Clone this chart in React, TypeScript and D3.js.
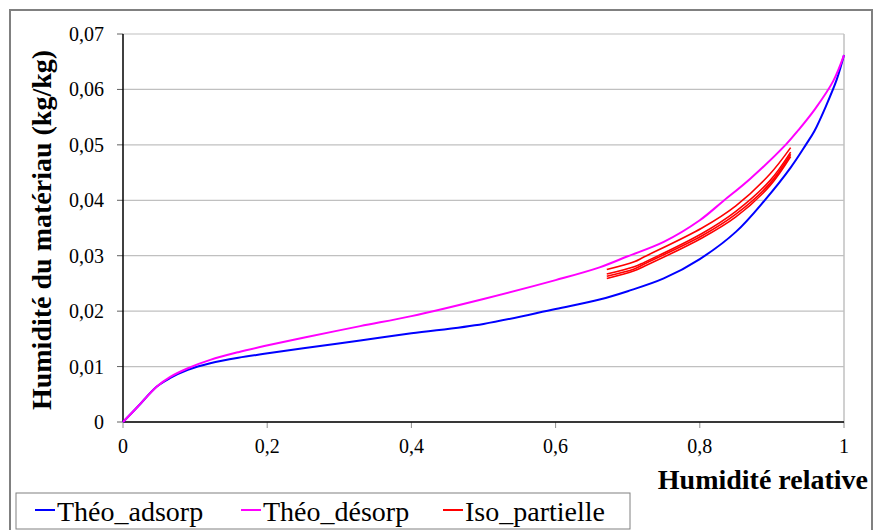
import React from "react";
import * as d3 from "d3";

const xTicks = [0, 0.2, 0.4, 0.6, 0.8, 1];
const yTicks = [0, 0.01, 0.02, 0.03, 0.04, 0.05, 0.06, 0.07];

const adsX = [0, 0.02, 0.047, 0.065, 0.09, 0.121, 0.16, 0.196, 0.25, 0.329, 0.4, 0.5, 0.6, 0.661, 0.7, 0.75, 0.8, 0.85, 0.89, 0.926, 0.947, 0.959, 0.975, 0.99, 1];
const adsY = [0, 0.0027, 0.0064, 0.0079, 0.0094, 0.0106, 0.0116, 0.0123, 0.0133, 0.0147, 0.016, 0.0177, 0.0204, 0.0221, 0.0236, 0.0259, 0.0294, 0.0343, 0.04, 0.0459, 0.05, 0.0525, 0.057, 0.0618, 0.0662];

const desX = [0, 0.02, 0.047, 0.065, 0.09, 0.121, 0.16, 0.196, 0.25, 0.329, 0.4, 0.5, 0.6, 0.661, 0.7, 0.75, 0.8, 0.831, 0.87, 0.919, 0.937, 0.96, 0.985, 1];
const desY = [0, 0.0027, 0.0064, 0.0081, 0.0097, 0.0112, 0.0126, 0.0137, 0.0152, 0.0173, 0.0191, 0.0222, 0.0256, 0.0279, 0.0299, 0.0325, 0.0364, 0.0397, 0.0439, 0.05, 0.0527, 0.0565, 0.0615, 0.0662];

const isoX = [0.671, 0.709, 0.723, 0.803, 0.85, 0.897, 0.926];
const isoA = [0.0275, 0.0289, 0.0298, 0.035, 0.039, 0.0447, 0.0495];
const isoB = [0.0267, 0.028, 0.0288, 0.034, 0.038, 0.0435, 0.0487];
const isoC = [0.0259, 0.0273, 0.0281, 0.0332, 0.037, 0.0426, 0.0479];
const isoD = [0.0263, 0.0276, 0.0285, 0.0336, 0.0375, 0.043, 0.0483];

const legendItems = [
  { label: "Théo_adsorp", color: "#0000ff" },
  { label: "Théo_désorp", color: "#ff00ff" },
  { label: "Iso_partielle", color: "#ff0000" },
];

const fmt = (v: number) => String(+v.toFixed(2)).replace(".", ",");
const SERIF = '"Liberation Serif"';

function T(props: any) {
  const { children, ...rest } = props;
  return (
    <text {...rest} fill="#000" style={{ fontFamily: SERIF }}>
      {children}
    </text>
  );
}

export default function App() {
  const left = 123, right = 844, top = 34, bottom = 422;
  const x = d3.scaleLinear().domain([0, 1]).range([left, right]);
  const y = d3.scaleLinear().domain([0, 0.07]).range([bottom, top]);
  const line = d3
    .line<[number, number]>()
    .x((d) => x(d[0]))
    .y((d) => y(d[1]))
    .curve(d3.curveCatmullRom.alpha(0.5));
  const zip = (xs: number[], ys: number[]) => xs.map((v, i) => [v, ys[i]] as [number, number]);
  const legendX = [35, 241, 443];

  return (
    <svg width={874} height={530} style={{ position: "absolute", left: 0, top: 0, background: "#fff" }}>
      <foreignObject x={0} y={0} width={1} height={1}>
        <div style={{ width: 1, height: 1 }} />
      </foreignObject>
      <rect x={10} y={10} width={862} height={540} fill="none" stroke="#808080" strokeWidth={2} />
      {yTicks.map((t) => (
        <line key={"g" + t} x1={left} x2={right} y1={y(t)} y2={y(t)} stroke="#c0c0c0" strokeWidth={1.2} />
      ))}
      <line x1={right} x2={right} y1={top} y2={bottom} stroke="#c0c0c0" strokeWidth={1.5} />
      {yTicks.map((t) => (
        <line key={"yt" + t} x1={left - 6} x2={left} y1={y(t)} y2={y(t)} stroke="#606060" strokeWidth={1} />
      ))}
      {yTicks.map((t) => (
        <T key={"yl" + t} x={104} y={y(t) + 7} fontSize={20} textAnchor="end">
          {fmt(t)}
        </T>
      ))}
      {xTicks.map((t) => (
        <line key={"xt" + t} x1={x(t)} x2={x(t)} y1={bottom} y2={bottom + 6} stroke="#909090" strokeWidth={1} />
      ))}
      {xTicks.map((t) => (
        <T key={"xl" + t} x={x(t)} y={453} fontSize={20} textAnchor="middle">
          {fmt(t)}
        </T>
      ))}
      <line x1={left} x2={left} y1={top} y2={bottom} stroke="#000" strokeWidth={1.5} />
      <line x1={left} x2={right} y1={bottom} y2={bottom} stroke="#000" strokeWidth={1.5} />
      <path d={line(zip(adsX, adsY)) || ""} fill="none" stroke="#0000ff" strokeWidth={2} />
      <path d={line(zip(desX, desY)) || ""} fill="none" stroke="#ff00ff" strokeWidth={2} />
      {[isoA, isoB, isoD, isoC].map((s, i) => (
        <path key={"iso" + i} d={line(zip(isoX, s)) || ""} fill="none" stroke="#ff0000" strokeWidth={1.6} />
      ))}
      <T transform="translate(51, 230) rotate(-90)" fontSize={28} fontWeight="bold" textAnchor="middle">
        Humidité du matériau (kg/kg)
      </T>
      <T x={868} y={489} fontSize={28} fontWeight="bold" textAnchor="end">
        Humidité relative
      </T>
      <rect x={16} y={493} width={614} height={36} fill="#fff" stroke="#808080" strokeWidth={1} />
      {legendItems.map((it, i) => (
        <line key={"ll" + i} x1={legendX[i]} x2={legendX[i] + 20} y1={510} y2={510} stroke={it.color} strokeWidth={2} />
      ))}
      {legendItems.map((it, i) => (
        <T key={"lt" + i} x={legendX[i] + 22} y={521} fontSize={28}>
          {it.label}
        </T>
      ))}
    </svg>
  );
}
